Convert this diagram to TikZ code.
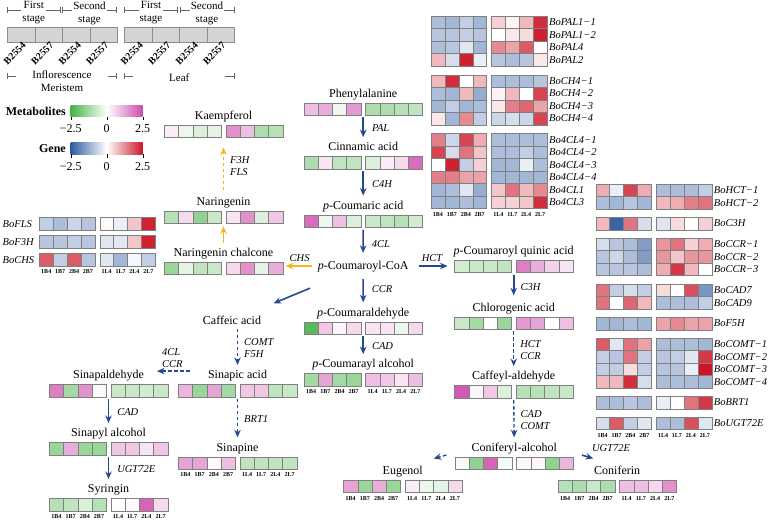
\documentclass[tikz,border=0pt]{standalone}
\usepackage{fontspec}
\setmainfont{Liberation Serif}
\usetikzlibrary{arrows.meta,positioning,calc}

\definecolor{metlo}{RGB}{72,178,72}
\definecolor{methi}{RGB}{206,72,172}
\definecolor{genlo}{RGB}{48,92,162}
\definecolor{genhi}{RGB}{204,22,38}
\definecolor{pathblue}{RGB}{38,72,145}
\definecolor{pathorange}{RGB}{246,182,24}
\definecolor{legfill}{RGB}{212,212,212}

\newcommand{\groupgap}{4.8}
\newcommand{\rowh}{12.5}

% one heat-map row: name, placement, low/high colour, cell width, values (-100..100)
\newcommand{\heatrow}[6]{%
  \node[heatbox, minimum width=8*#5+\groupgap, #2] (#1) {};
  \foreach \v [count=\i] in {#6} {%
    \ifnum\v<0 \def\hc{#3}\else\def\hc{#4}\fi
    \pgfmathtruncatemacro\pc{abs(\v)}%
    \pgfmathsetmacro\xo{(\i-1)*#5+(\i>4)*\groupgap}%
    \path[cell, fill=\hc!\pc!white] (#1.north west) ++(\xo,0) rectangle ++(#5,\rowh);
  }%
}
\newcommand{\metrow}[4]{%
  \heatrow{#1}{#2}{metlo}{methi}{14.2}{#3}%
  \node[met, above=3pt of #1] (#1l) {#4};%
}
\newcommand{\generow}[4]{%
  \heatrow{#1}{#2}{genlo}{genhi}{13.9}{#3}%
  \node[gene, right=1pt of #1] (#1l) {#4};%
}
\newcommand{\samplelabels}[2]{%
  \foreach \s [count=\i] in {1B4,1B7,2B4,2B7,1L4,1L7,2L4,2L7} {%
    \pgfmathsetmacro\xo{(\i-0.5)*#2+(\i>4)*\groupgap}%
    \node[samp] (#1s\i) at ([shift={(\xo pt,-5.8pt)}]#1.south west) {\s};
  }%
}

\begin{document}
\begin{tikzpicture}[x=1pt,y=-1pt,
  >={Stealth[length=7.5pt,width=6.5pt]},
  met/.style={font=\fontsize{12}{14}\selectfont, inner sep=1pt,
    text height=8.5pt, text depth=1.5pt},
  enz/.style={font=\fontsize{10.5}{12}\selectfont\itshape, inner sep=1pt, align=left},
  gene/.style={font=\fontsize{10.5}{12}\selectfont\itshape, inner sep=1pt},
  samp/.style={font=\fontsize{6}{6}\selectfont\bfseries, inner sep=0pt},
  acc/.style={font=\fontsize{10}{11}\selectfont\bfseries, inner sep=0pt},
  legtext/.style={font=\fontsize{11}{13}\selectfont, align=center, inner sep=1pt, fill=white},
  keytext/.style={font=\fontsize{12}{14}\selectfont\bfseries, inner sep=1pt},
  num/.style={font=\fontsize{12}{14}\selectfont, inner sep=1pt},
  heatbox/.style={inner sep=0pt, outer sep=0pt, minimum height=12.5pt},
  cell/.style={draw=black!50, line width=0.35pt},
  arr/.style={->, draw=pathblue, line width=1.6pt, shorten <=2pt, shorten >=4pt},
  darr/.style={arr, dash pattern=on 3.5pt off 2.5pt, line width=1.4pt},
  oarr/.style={arr, draw=pathorange},
  odarr/.style={darr, draw=pathorange},
  dim/.style={line width=0.4pt, draw=black!60, {Bar[width=6pt]}-{Bar[width=6pt]}}]

  \useasboundingbox (0,0) rectangle (769,520);

  % sample key
  \foreach \bx [count=\k] in {7.3,124.3} {
    \foreach \lab [count=\i from 0] in {B2554,B2557,B2554,B2557} {
      \draw[fill=legfill, draw=black!45, line width=0.4pt]
        (\bx+27.5*\i,26.7) rectangle ++(27.5,15.3);
      \node[acc, rotate=45] (acc\k\i) at (\bx+27.5*\i+7.5,53.5) {\lab};
    }
  }
  \draw[dim] (7.3,9.7) -- (60.3,9.7);
  \draw[dim] (62.3,9.7) -- (116.7,9.7);
  \draw[dim] (124.3,9.7) -- (177.7,9.7);
  \draw[dim] (179.7,9.7) -- (234.3,9.7);
  \draw[dim] (7.3,76) -- (116.7,76);
  \draw[dim] (124.3,76) -- (234.3,76);
  \node[legtext] (st1) at (33.8,13) {First\\stage};
  \node[legtext] (st2) at (89.5,13) {Second\\stage};
  \node[legtext] (st3) at (151,13) {First\\stage};
  \node[legtext] (st4) at (207,13) {Second\\stage};
  \node[legtext, inner xsep=16pt] (ifm) at (62,81) {Inflorescence\\Meristem};
  \node[legtext, inner xsep=36pt] (leaf) at (179.3,77.5) {Leaf};

  % colour keys
  \node[keytext, anchor=east] (metkey) at (67,111) {Metabolites};
  \shade[left color=metlo, right color=white] (70.7,105) rectangle (106.7,116.7);
  \shade[left color=white, right color=methi] (106.7,105) rectangle (142.7,116.7);
  \node[keytext, anchor=east] (genkey) at (67,148.5) {Gene};
  \shade[left color=genlo, right color=white] (70.7,142.7) rectangle (106.7,154.3);
  \shade[left color=white, right color=genhi] (106.7,142.7) rectangle (142.7,154.3);
  \foreach \x/\t [count=\i] in {70.7/−2.5,106.7/0,142.7/2.5} {
    \draw[line width=0.4pt] (\x,116.7) -- (\x,120);
    \node[num, anchor=north] (mk\i) at (\x,123.5) {\t};
    \draw[line width=0.4pt] (\x,154.3) -- (\x,158);
    \node[num, anchor=north] (gk\i) at (\x,161) {\t};
  }

  % genes, top right
  \generow{pal1}{anchor=north west, at={(431,16)}}{-40,-45,-30,-45,20,5,30,90}{BoPAL1−1}
  \generow{pal2}{below=0pt of pal1}{-35,-35,-30,-35,0,10,15,95}{BoPAL1−2}
  \generow{pal4}{below=0pt of pal2}{-40,-35,-15,-45,50,40,70,0}{BoPAL4}
  \generow{palb}{below=0pt of pal4}{30,-20,95,-10,-35,-40,-35,10}{BoPAL2}
  \generow{cha}{below=8.8pt of palb}{30,90,0,30,-40,-40,-40,-35}{BoCH4−1}
  \generow{chb}{below=0pt of cha}{-40,-45,30,-50,5,30,0,80}{BoCH4−2}
  \generow{chc}{below=0pt of chb}{-45,-30,-45,-40,10,55,65,40}{BoCH4−3}
  \generow{chd}{below=0pt of chc}{10,-45,50,-30,-25,-20,-25,80}{BoCH4−4}
  \generow{cla}{below=8.8pt of chd}{55,-25,80,35,-40,-40,-40,-40}{Bo4CL4−1}
  \generow{clb}{below=0pt of cla}{80,-20,60,25,-40,-40,-30,-40}{Bo4CL4−2}
  \generow{clc}{below=0pt of clb}{0,95,-30,20,-45,-45,-10,-40}{Bo4CL4−3}
  \generow{cld}{below=0pt of clc}{55,55,40,40,-45,-45,-45,-45}{Bo4CL4−4}
  \generow{cle}{below=0pt of cld}{-45,-40,-15,-50,25,60,30,50}{Bo4CL1}
  \generow{clf}{below=0pt of cle}{-45,-45,-40,-45,20,20,25,90}{Bo4CL3}
  \samplelabels{clf}{13.9}

  % genes, right
  \generow{hcta}{anchor=north west, at={(595.7,184)}}{35,-10,80,35,-40,-40,-40,-30}{BoHCT−1}
  \generow{hctb}{below=0pt of hcta}{-40,-45,-35,-45,30,35,55,60}{BoHCT−2}
  \generow{cth}{below=8.3pt of hctb}{30,-95,60,-20,-15,15,0,20}{BoC3H}
  \generow{ccra}{below=8.3pt of cth}{-20,-35,-40,-60,45,60,20,35}{BoCCR−1}
  \generow{ccrb}{below=0pt of ccra}{-35,-25,-40,-60,45,25,45,45}{BoCCR−2}
  \generow{ccrc}{below=0pt of ccrb}{-35,-35,-35,-40,35,85,30,0}{BoCCR−3}
  \generow{cada}{below=8.3pt of ccrc}{60,-30,-20,-30,15,0,75,-65}{BoCAD7}
  \generow{cadb}{below=0pt of cada}{60,0,65,30,-40,-40,-40,-30}{BoCAD9}
  \generow{ffh}{below=8.3pt of cadb}{-45,-45,-40,-45,40,50,40,40}{BoF5H}
  \generow{comta}{below=8.3pt of ffh}{70,-15,60,40,-40,-40,-40,-45}{BoCOMT−1}
  \generow{comtb}{below=0pt of comta}{-30,-35,60,-30,-35,-30,-15,85}{BoCOMT−2}
  \generow{comtc}{below=0pt of comtb}{-30,-30,15,-30,-35,-35,-10,100}{BoCOMT−3}
  \generow{comtd}{below=0pt of comtc}{30,30,90,-20,-40,-40,-40,-45}{BoCOMT−4}
  \generow{brt}{below=8.3pt of comtd}{-40,-40,-35,-40,-10,0,60,85}{BoBRT1}
  \generow{ugt}{below=8.3pt of brt}{-20,70,-30,-15,-40,-40,75,-15}{BoUGT72E}
  \samplelabels{ugt}{13.9}

  % genes, left
  \coordinate (lm) at (1.5,0);
  \heatrow{fls}{anchor=north west, at={(39.3,217.5)}}{genlo}{genhi}{13.9}{-30,-40,-25,-35,2,-10,25,95}
  \heatrow{fth}{below=5.5pt of fls}{genlo}{genhi}{13.9}{-35,-35,-30,-35,-15,-15,25,95}
  \heatrow{chs}{below=5.5pt of fth}{genlo}{genhi}{13.9}{70,-30,70,-35,-15,-45,-5,-30}
  \samplelabels{chs}{13.9}
  \node[gene, anchor=west] (flsl) at (fls.west -| lm) {BoFLS};
  \node[gene, anchor=west] (fthl) at (fth.west -| lm) {BoF3H};
  \node[gene, anchor=west] (chsl) at (chs.west -| lm) {BoCHS};

  % metabolites
  \metrow{phe}{anchor=north west, at={(304,102.7)}}{35,45,-10,55,-45,-45,-40,-35}{Phenylalanine}
  \metrow{cin}{anchor=north west, at={(304,156.5)}}{-45,15,-35,-35,-20,10,20,80}{Cinnamic acid}
  \metrow{pcou}{anchor=north west, at={(304,215)}}{80,-10,35,-20,-30,-35,-40,-25}{\textit{p}-Coumaric acid}
  \node[met] (coa) at (363.1,266) {\textit{p}-Coumaroyl-CoA};
  \metrow{pcald}{anchor=north west, at={(304,321.7)}}{-90,30,5,20,15,15,-10,20}{\textit{p}-Coumaraldehyde}
  \metrow{pcalc}{anchor=north west, at={(304,373.5)}}{-50,50,-50,-55,35,30,15,35}{\textit{p}-Coumarayl alcohol}
  \samplelabels{pcalc}{14.2}
  \metrow{quin}{anchor=north west, at={(454.5,260)}}{-25,-30,-30,-35,70,45,25,15}{\textit{p}-Coumaroyl quinic acid}
  \metrow{chl}{anchor=north west, at={(454.5,316.7)}}{-30,-50,0,-55,55,50,0,35}{Chlorogenic acid}
  \metrow{cfa}{anchor=north west, at={(454.5,385.5)}}{90,5,30,-20,-40,-40,-35,-30}{Caffeyl-aldehyde}
  \metrow{coni}{anchor=north west, at={(455,456.7)}}{-5,-60,85,-5,5,5,-60,40}{Coniferyl-alcohol}
  \metrow{eug}{anchor=north west, at={(343.5,480)}}{50,-55,45,-55,10,-10,-15,20}{Eugenol}
  \samplelabels{eug}{14.2}
  \metrow{cfn}{anchor=north west, at={(558,480)}}{-40,-45,-30,-45,35,35,20,60}{Coniferin}
  \samplelabels{cfn}{14.2}
  \metrow{kae}{anchor=north west, at={(164.3,125)}}{10,-10,-20,-15,60,35,-45,-40}{Kaempferol}
  \metrow{nar}{anchor=north west, at={(164.3,210.7)}}{-40,20,-60,-30,15,60,-20,30}{Naringenin}
  \metrow{chal}{anchor=north west, at={(164.3,261.7)}}{-55,-15,-35,-30,20,60,-15,45}{Naringenin chalcone}
  \node[met] (caf) at (232,320.7) {Caffeic acid};
  \metrow{sac}{anchor=north west, at={(178.3,384.3)}}{40,-55,50,-50,30,30,-35,-30}{Sinapic acid}
  \metrow{snp}{anchor=north west, at={(178.3,456.7)}}{50,50,2,35,-35,-35,-35,-35}{Sinapine}
  \samplelabels{snp}{14.2}
  \metrow{sald}{anchor=north west, at={(49.3,384.3)}}{70,-50,60,-5,-30,-30,-25,-30}{Sinapaldehyde}
  \metrow{salc}{anchor=north west, at={(49.3,442.3)}}{-55,45,-55,-55,30,30,15,30}{Sinapyl alcohol}
  \metrow{syr}{anchor=north west, at={(49.3,498.3)}}{-40,-35,-20,-40,0,2,85,20}{Syringin}
  \samplelabels{syr}{14.2}

  % pathway steps
  \draw[arr] (phe.south) -- (cinl.north) node[enz, midway, right=7pt] (pal) {PAL};
  \draw[arr] (cin.south) -- (pcoul.north) node[enz, midway, right=7pt] (c4h) {C4H};
  \draw[arr, shorten >=7pt] (pcou.south) -- (coa.north) node[enz, midway, right=7pt] (fcl) {4CL};
  \draw[arr, shorten <=7pt] (coa.south) -- (pcaldl.north) node[enz, midway, right=7pt] (ccr) {CCR};
  \draw[arr] (pcald.south) -- (pcalcl.north) node[enz, midway, right=7pt] (cad) {CAD};
  \draw[oarr, shorten <=5pt, shorten >=3pt] (coa.west) -- (coa.west -| chal.east)
    node[enz, midway, above=3pt] (chsn) {CHS};
  \draw[arr, shorten <=9pt, shorten >=7pt] (coa.east) -- (coa.east -| quin.west)
    node[enz, midway, above=3pt] (hct) {HCT};
  \draw[arr] ($(coa)!.39!(caf)$) -- ($(coa)!.71!(caf)$);
  \draw[arr, shorten >=6pt] (quin.south) -- (chll.north) node[enz, midway, right=5pt] (cth3) {C3H};
  \draw[darr] (chl.south) -- (cfal.north) node[enz, midway, right=5pt] (hcr) {HCT\\CCR};
  \draw[darr] (cfa.south) -- (conil.north) node[enz, midway, right=5pt] (cdc) {CAD\\COMT};
  \draw[darr] ($(conil.west)+(-22,7)$) -- ($(eugl.north east)+(6,-5)$);
  \draw[arr] ($(conil.east)+(22,7)$) -- ($(cfnl.north west)+(4,-5)$)
    node[enz, pos=.6, anchor=south west, yshift=4pt] (ugtn) {UGT72E};
  \draw[oarr, shorten <=3pt, shorten >=3pt] (chall.north) -- (chall.north |- nar.south);
  \draw[odarr, shorten <=5pt, shorten >=10pt] (narl.north) -- (narl.north |- kae.south)
    node[enz, midway, right=5pt] (ffl) {F3H\\FLS};
  \draw[darr] (caf.south -| sacl.north) -- (sacl.north)
    node[enz, midway, right=5pt] (cfh) {COMT\\F5H};
  \draw[darr] ($(sacl.west)+(-15,-4)$) -- ($(saldl.east)+(8,-4)$)
    node[enz, midway, above=2pt] (fcc) {4CL\\CCR};
  \draw[darr] (sac.south) -- (snpl.north) node[enz, midway, right=5pt] (brtn) {BRT1};
  \draw[arr] (sald.south) -- (salcl.north) node[enz, midway, right=7pt] (cad2) {CAD};
  \draw[arr] (salc.south) -- (syrl.north) node[enz, midway, right=7pt] (ugt2) {UGT72E};

\end{tikzpicture}
\end{document}
